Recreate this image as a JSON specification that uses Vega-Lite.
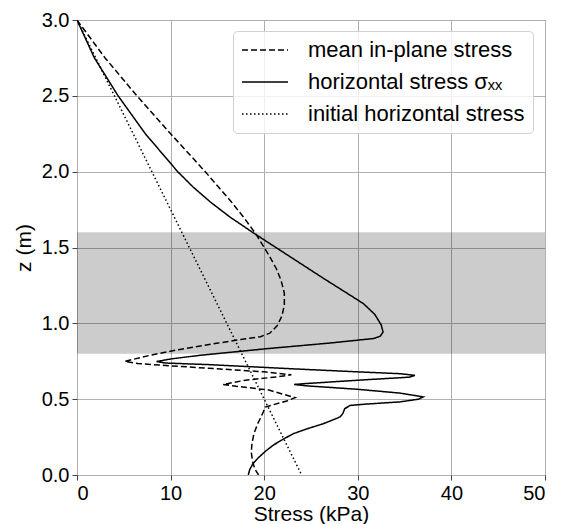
{
  "$schema": "https://vega.github.io/schema/vega-lite/v6.json",
  "width": 468,
  "height": 455,
  "autosize": {"type": "none"},
  "padding": {"left": 77, "top": 20, "right": 18, "bottom": 49},
  "config": {
    "font": "Liberation Sans",
    "view": {"stroke": "#444", "strokeWidth": 1},
    "axis": {
      "grid": true, "gridColor": "#b0b0b0", "gridWidth": 1,
      "domain": false, "tickColor": "#444", "tickSize": 5, "tickWidth": 1,
      "labelFontSize": 20, "labelColor": "#000", "titleFontSize": 21,
      "titleFontWeight": "normal", "titleColor": "#000", "labelPadding": 3
    }
  },
  "datasets": {
    "band": [{"z1": 0.8, "z2": 1.6}],
    "curves": [
      {"series": "initial horizontal stress", "i": 0, "x": 0, "z": 3.0},
      {"series": "initial horizontal stress", "i": 1, "x": 24, "z": 0.0},

      {"series": "horizontal stress σₓₓ", "i": 0, "x": 0, "z": 3.0},
      {"series": "horizontal stress σₓₓ", "i": 1, "x": 1.86, "z": 2.75},
      {"series": "horizontal stress σₓₓ", "i": 2, "x": 4.39, "z": 2.5},
      {"series": "horizontal stress σₓₓ", "i": 3, "x": 7.3, "z": 2.25},
      {"series": "horizontal stress σₓₓ", "i": 4, "x": 10.76, "z": 2.0},
      {"series": "horizontal stress σₓₓ", "i": 5, "x": 12.38, "z": 1.9},
      {"series": "horizontal stress σₓₓ", "i": 6, "x": 14.25, "z": 1.8},
      {"series": "horizontal stress σₓₓ", "i": 7, "x": 16.36, "z": 1.7},
      {"series": "horizontal stress σₓₓ", "i": 8, "x": 19.0, "z": 1.59},
      {"series": "horizontal stress σₓₓ", "i": 9, "x": 23.0, "z": 1.43},
      {"series": "horizontal stress σₓₓ", "i": 10, "x": 26.5, "z": 1.29},
      {"series": "horizontal stress σₓₓ", "i": 11, "x": 29.2, "z": 1.185},
      {"series": "horizontal stress σₓₓ", "i": 12, "x": 30.6, "z": 1.13},
      {"series": "horizontal stress σₓₓ", "i": 13, "x": 31.8, "z": 1.06},
      {"series": "horizontal stress σₓₓ", "i": 14, "x": 32.5, "z": 0.99},
      {"series": "horizontal stress σₓₓ", "i": 15, "x": 32.7, "z": 0.943},
      {"series": "horizontal stress σₓₓ", "i": 16, "x": 32.4, "z": 0.915},
      {"series": "horizontal stress σₓₓ", "i": 17, "x": 31.7, "z": 0.9},
      {"series": "horizontal stress σₓₓ", "i": 18, "x": 27.0, "z": 0.87},
      {"series": "horizontal stress σₓₓ", "i": 19, "x": 20.3, "z": 0.833},
      {"series": "horizontal stress σₓₓ", "i": 20, "x": 13.1, "z": 0.789},
      {"series": "horizontal stress σₓₓ", "i": 21, "x": 10.0, "z": 0.765},
      {"series": "horizontal stress σₓₓ", "i": 22, "x": 8.5, "z": 0.748},
      {"series": "horizontal stress σₓₓ", "i": 23, "x": 9.5, "z": 0.738},
      {"series": "horizontal stress σₓₓ", "i": 24, "x": 14.0, "z": 0.728},
      {"series": "horizontal stress σₓₓ", "i": 25, "x": 23.1, "z": 0.70},
      {"series": "horizontal stress σₓₓ", "i": 26, "x": 30.0, "z": 0.68},
      {"series": "horizontal stress σₓₓ", "i": 27, "x": 34.5, "z": 0.668},
      {"series": "horizontal stress σₓₓ", "i": 28, "x": 36.1, "z": 0.657},
      {"series": "horizontal stress σₓₓ", "i": 29, "x": 35.5, "z": 0.645},
      {"series": "horizontal stress σₓₓ", "i": 30, "x": 30.0, "z": 0.625},
      {"series": "horizontal stress σₓₓ", "i": 31, "x": 24.5, "z": 0.603},
      {"series": "horizontal stress σₓₓ", "i": 32, "x": 23.2, "z": 0.597},
      {"series": "horizontal stress σₓₓ", "i": 33, "x": 24.5, "z": 0.588},
      {"series": "horizontal stress σₓₓ", "i": 34, "x": 30.0, "z": 0.565},
      {"series": "horizontal stress σₓₓ", "i": 35, "x": 34.5, "z": 0.54},
      {"series": "horizontal stress σₓₓ", "i": 36, "x": 37.0, "z": 0.515},
      {"series": "horizontal stress σₓₓ", "i": 37, "x": 36.5, "z": 0.5},
      {"series": "horizontal stress σₓₓ", "i": 38, "x": 34.5, "z": 0.482},
      {"series": "horizontal stress σₓₓ", "i": 39, "x": 31.0, "z": 0.468},
      {"series": "horizontal stress σₓₓ", "i": 40, "x": 29.2, "z": 0.459},
      {"series": "horizontal stress σₓₓ", "i": 41, "x": 28.6, "z": 0.437},
      {"series": "horizontal stress σₓₓ", "i": 42, "x": 28.4, "z": 0.405},
      {"series": "horizontal stress σₓₓ", "i": 43, "x": 28.1, "z": 0.383},
      {"series": "horizontal stress σₓₓ", "i": 44, "x": 27.2, "z": 0.36},
      {"series": "horizontal stress σₓₓ", "i": 45, "x": 26.3, "z": 0.338},
      {"series": "horizontal stress σₓₓ", "i": 46, "x": 24.6, "z": 0.305},
      {"series": "horizontal stress σₓₓ", "i": 47, "x": 23.1, "z": 0.272},
      {"series": "horizontal stress σₓₓ", "i": 48, "x": 22.0, "z": 0.235},
      {"series": "horizontal stress σₓₓ", "i": 49, "x": 21.0, "z": 0.198},
      {"series": "horizontal stress σₓₓ", "i": 50, "x": 20.2, "z": 0.16},
      {"series": "horizontal stress σₓₓ", "i": 51, "x": 19.4, "z": 0.115},
      {"series": "horizontal stress σₓₓ", "i": 52, "x": 18.8, "z": 0.075},
      {"series": "horizontal stress σₓₓ", "i": 53, "x": 18.45, "z": 0.035},
      {"series": "horizontal stress σₓₓ", "i": 54, "x": 18.3, "z": 0.0},

      {"series": "mean in-plane stress", "i": 0, "x": 0, "z": 3.0},
      {"series": "mean in-plane stress", "i": 1, "x": 3.0, "z": 2.75},
      {"series": "mean in-plane stress", "i": 2, "x": 6.4, "z": 2.5},
      {"series": "mean in-plane stress", "i": 3, "x": 10.0, "z": 2.25},
      {"series": "mean in-plane stress", "i": 4, "x": 13.7, "z": 2.0},
      {"series": "mean in-plane stress", "i": 5, "x": 16.5, "z": 1.8},
      {"series": "mean in-plane stress", "i": 6, "x": 17.8, "z": 1.7},
      {"series": "mean in-plane stress", "i": 7, "x": 19.1, "z": 1.59},
      {"series": "mean in-plane stress", "i": 8, "x": 20.0, "z": 1.5},
      {"series": "mean in-plane stress", "i": 9, "x": 20.6, "z": 1.438},
      {"series": "mean in-plane stress", "i": 10, "x": 21.3, "z": 1.36},
      {"series": "mean in-plane stress", "i": 11, "x": 21.8, "z": 1.284},
      {"series": "mean in-plane stress", "i": 12, "x": 22.15, "z": 1.2},
      {"series": "mean in-plane stress", "i": 13, "x": 22.15, "z": 1.12},
      {"series": "mean in-plane stress", "i": 14, "x": 21.9, "z": 1.05},
      {"series": "mean in-plane stress", "i": 15, "x": 21.4, "z": 0.985},
      {"series": "mean in-plane stress", "i": 16, "x": 20.6, "z": 0.935},
      {"series": "mean in-plane stress", "i": 17, "x": 19.6, "z": 0.912},
      {"series": "mean in-plane stress", "i": 18, "x": 17.5, "z": 0.893},
      {"series": "mean in-plane stress", "i": 19, "x": 14.9, "z": 0.868},
      {"series": "mean in-plane stress", "i": 20, "x": 11.0, "z": 0.828},
      {"series": "mean in-plane stress", "i": 21, "x": 7.78, "z": 0.789},
      {"series": "mean in-plane stress", "i": 22, "x": 5.1, "z": 0.749},
      {"series": "mean in-plane stress", "i": 23, "x": 6.5, "z": 0.735},
      {"series": "mean in-plane stress", "i": 24, "x": 10.0, "z": 0.72},
      {"series": "mean in-plane stress", "i": 25, "x": 15.0, "z": 0.70},
      {"series": "mean in-plane stress", "i": 26, "x": 20.0, "z": 0.68},
      {"series": "mean in-plane stress", "i": 27, "x": 22.9, "z": 0.661},
      {"series": "mean in-plane stress", "i": 28, "x": 21.5, "z": 0.648},
      {"series": "mean in-plane stress", "i": 29, "x": 18.0, "z": 0.625},
      {"series": "mean in-plane stress", "i": 30, "x": 15.6, "z": 0.597},
      {"series": "mean in-plane stress", "i": 31, "x": 17.0, "z": 0.585},
      {"series": "mean in-plane stress", "i": 32, "x": 20.5, "z": 0.56},
      {"series": "mean in-plane stress", "i": 33, "x": 23.3, "z": 0.51},
      {"series": "mean in-plane stress", "i": 34, "x": 22.5, "z": 0.49},
      {"series": "mean in-plane stress", "i": 35, "x": 20.1, "z": 0.448},
      {"series": "mean in-plane stress", "i": 36, "x": 19.9, "z": 0.415},
      {"series": "mean in-plane stress", "i": 37, "x": 19.6, "z": 0.375},
      {"series": "mean in-plane stress", "i": 38, "x": 19.3, "z": 0.338},
      {"series": "mean in-plane stress", "i": 39, "x": 18.9, "z": 0.272},
      {"series": "mean in-plane stress", "i": 40, "x": 18.7, "z": 0.21},
      {"series": "mean in-plane stress", "i": 41, "x": 18.62, "z": 0.15},
      {"series": "mean in-plane stress", "i": 42, "x": 18.75, "z": 0.09},
      {"series": "mean in-plane stress", "i": 43, "x": 19.0, "z": 0.04},
      {"series": "mean in-plane stress", "i": 44, "x": 19.4, "z": 0.0}
    ]
  },
  "layer": [
    {
      "data": {"name": "band"},
      "mark": {"type": "rect", "color": "#000", "opacity": 0.2},
      "encoding": {
        "x": {"datum": 0, "type": "quantitative", "scale": {"domain": [0, 50]}},
        "x2": {"datum": 50},
        "y": {"field": "z1", "type": "quantitative", "scale": {"domain": [0, 3]}},
        "y2": {"field": "z2"}
      }
    },
    {
      "data": {"name": "curves"},
      "mark": {"type": "line", "color": "#000", "strokeWidth": 1.5, "clip": true},
      "encoding": {
        "x": {"field": "x", "type": "quantitative", "scale": {"domain": [0, 50], "nice": false},
              "axis": {"values": [0, 10, 20, 30, 40, 50], "title": "Stress (kPa)", "titlePadding": 0}},
        "y": {"field": "z", "type": "quantitative", "scale": {"domain": [0, 3], "nice": false},
              "axis": {"values": [0, 0.5, 1, 1.5, 2, 2.5, 3], "format": ".1f", "title": "z (m)", "titlePadding": 7}},
        "order": {"field": "i", "type": "quantitative"},
        "detail": {"field": "series"},
        "strokeDash": {
          "field": "series", "type": "nominal",
          "scale": {
            "domain": ["mean in-plane stress", "horizontal stress σₓₓ", "initial horizontal stress"],
            "range": [[6, 3], [1, 0], [1.5, 2.5]]
          },
          "legend": {
            "title": null, "orient": "none", "legendX": 156, "legendY": 11,
            "labelFontSize": 22, "labelColor": "#000", "labelOffset": 45,
            "symbolType": "M-1,0H3.6", "symbolSize": 400, "symbolStrokeWidth": 1.5,
            "symbolStrokeColor": "#000", "rowPadding": 10, "padding": 8,
            "fillColor": "rgba(255,255,255,0.8)", "strokeColor": "#d0d0d0",
            "cornerRadius": 4, "labelLimit": 400
          }
        }
      }
    }
  ]
}
